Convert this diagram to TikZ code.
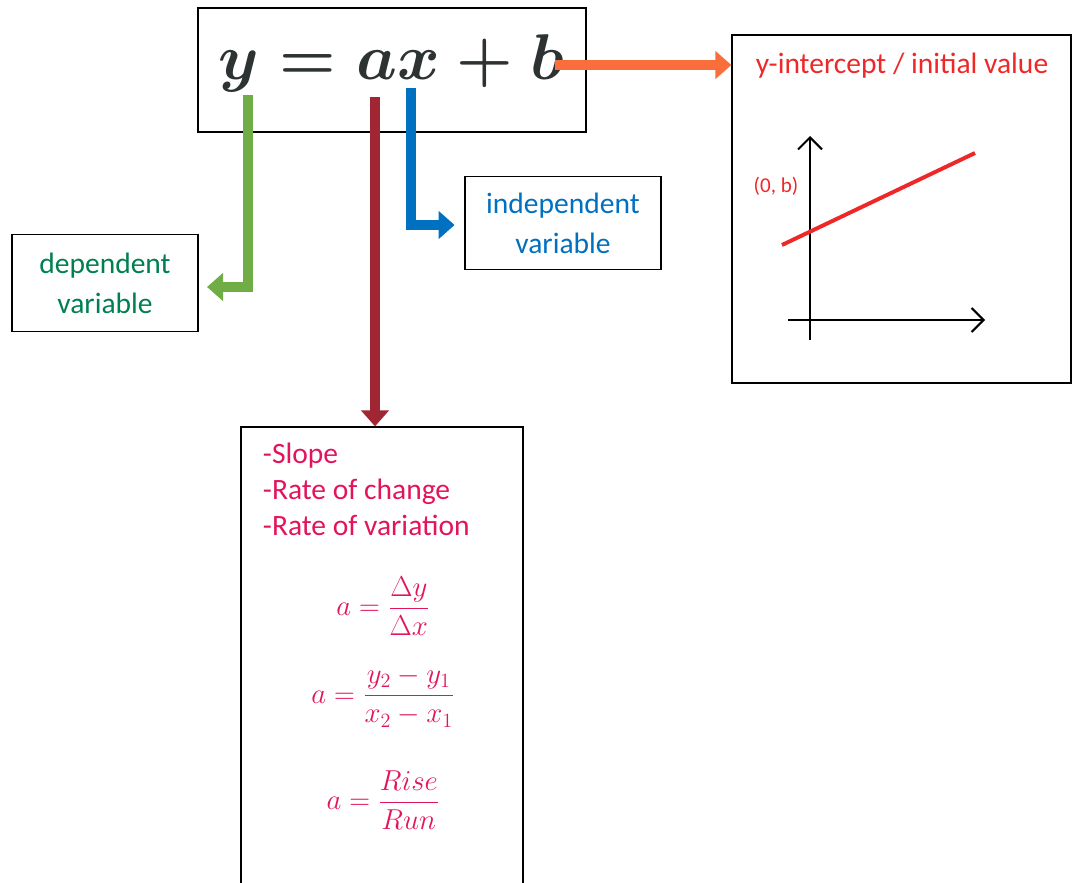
\RequirePackage{fix-cm}
\documentclass[tikz,border=0pt]{standalone}
\usepackage{amsmath}
\usepackage{fontspec}
\setmainfont{Carlito}
\usetikzlibrary{positioning,arrows.meta}
\definecolor{eqgray}{RGB}{45,50,50}
\definecolor{depgreen}{RGB}{112,173,71}
\definecolor{deptext}{RGB}{0,128,80}
\definecolor{indblue}{RGB}{0,112,192}
\definecolor{slopered}{RGB}{160,38,52}
\definecolor{bcoral}{RGB}{250,110,60}
\definecolor{icptred}{RGB}{238,40,40}
\definecolor{crimson}{RGB}{226,20,92}

\begin{document}
\begin{tikzpicture}[x=0.025cm, y=-0.025cm,
  box/.style={draw, line width=0.8pt, align=center, inner sep=0pt},
  lab/.style={font=\fontsize{21}{28.4}\selectfont, align=center},
  fat/.style={line width=0.27cm, line join=miter, -{Triangle[width=0.68cm,length=0.4cm]}},
  axis/.style={line width=1.4pt, -{Straight Barb[length=0.3cm,width=0.6cm]}},
  frm/.style={text=crimson, font=\fontsize{20.5}{24}\selectfont}]
\useasboundingbox (0,0) rectangle (1072,882);

% row 1: the equation and the intercept
\node[box, minimum width=9.7cm, minimum height=3.1cm] (eq) at (392,70) {};
\node[text=eqgray, font=\fontsize{46}{50}\selectfont\mathversion{bold}] (eqtxt) at (391,63) {$y = ax + b$};
\node[box, minimum width=8.475cm, minimum height=8.7cm] (icept) at (901.5,209) {};
\node[lab, text=icptred, anchor=west] (ictitle) at (751,66) {y-intercept / initial value};

% row 2: the two variables
\node[box, lab, text=deptext, minimum width=4.65cm, minimum height=2.425cm] (dep) at (105,283) {dependent\\ variable};
\node[box, lab, text=indblue, minimum width=4.9cm, minimum height=2.325cm] (indep) at (563,223) {independent\\ variable};

% row 3: the slope
\node[box, minimum width=7.05cm, minimum height=11.825cm] (slope) at (382,663.5) {};
\node[text=crimson, font=\fontsize{21}{25.6}\selectfont, align=left, anchor=north west] (slist) at (258,438)
  {-Slope\\ -Rate of change\\ -Rate of variation};
\node[frm] (f1) at (383,606) {$\displaystyle a = \frac{\Delta y}{\Delta x}$};
\node[frm] (f2) at (383,697) {$\displaystyle a = \frac{y_2 - y_1}{x_2 - x_1}$};
\node[frm] (f3) at (383,800) {$\displaystyle a = \frac{Rise}{Run}$};

% small graph
\draw[axis] (810,340) -- (810,136);
\draw[axis] (788,320) -- (985,320);
\draw[icptred, line width=2.8pt] (782,245) -- (975,153);
\node[text=icptred, font=\fontsize{15}{17}\selectfont] (ob) at (776,186) {(0, b)};

% arrows
\coordinate (ybot) at (248,95);
\coordinate (abot) at (375,97);
\coordinate (xbot) at (411,88);
\coordinate (bend) at (555,65);
\draw[fat, depgreen] (ybot) |- ([xshift=6pt]dep.east |- 0,287);
\draw[fat, slopered] (abot) -- (abot |- slope.north);
\draw[fat, indblue] (xbot) |- ([xshift=-7pt]indep.west |- 0,225);
\draw[fat, bcoral] (bend) -- (bend -| icept.west);
\end{tikzpicture}
\end{document}
